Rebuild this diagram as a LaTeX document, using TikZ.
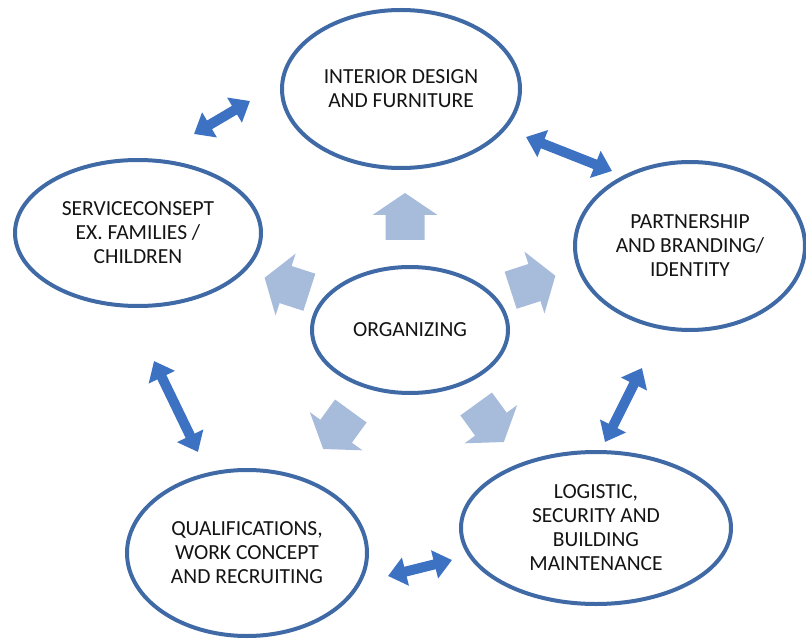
\documentclass[tikz,border=0pt]{standalone}
\usepackage{fontspec}
\setmainfont{Carlito}
\usetikzlibrary{shapes.geometric,arrows.meta}
\definecolor{ring}{RGB}{64,106,166}
\definecolor{dblc}{RGB}{61,114,194}
\definecolor{blkc}{RGB}{167,187,219}
\definecolor{txt}{RGB}{20,20,20}
\begin{document}
\begin{tikzpicture}[x=1pt,y=1pt,
  ell/.style={ellipse, draw=ring, line width=4pt, fill=white, inner sep=0pt,
    align=center, text=txt, font=\fontsize{21.5}{24}\selectfont},
  link/.style={draw=dblc, line width=10pt,
    {Triangle[width=28pt,length=18pt]}-{Triangle[width=28pt,length=18pt]}},
  pics/blockarrow/.style={code={
    \fill[blkc] (-23.5,-19.5) -- (1.5,-19.5) -- (1.5,-32.5) -- (23.5,0)
      -- (1.5,32.5) -- (1.5,19.5) -- (-23.5,19.5) -- cycle;}}]
\path[use as bounding box] (0,0) rectangle (806,-639);

% ellipses
\node[ell, minimum width=238pt, minimum height=158pt] (top) at (401,-89)
  {INTERIOR DESIGN\\AND FURNITURE};
\node[ell, minimum width=246pt, minimum height=146pt] (left) at (138,-233)
  {SERVICECONSEPT\\EX. FAMILIES /\\CHILDREN};
\node[ell, minimum width=230pt, minimum height=168pt] (right) at (690,-246)
  {PARTNERSHIP\\AND BRANDING/\\IDENTITY};
\node[ell, minimum width=196pt, minimum height=126pt] (center) at (410,-330)
  {ORGANIZING};
\node[ell, minimum width=240pt, minimum height=166pt] (botleft) at (247,-553)
  {QUALIFICATIONS,\\WORK CONCEPT\\AND RECRUITING};
\node[ell, minimum width=270pt, minimum height=152pt] (botright) at (596,-528)
  {LOGISTIC,\\SECURITY AND\\BUILDING\\MAINTENANCE};

% light block arrows around the centre
\pic[rotate=90]  at (405,-216.5) {blockarrow};
\pic[rotate=162] at (287,-285) {blockarrow};
\pic[rotate=18]  at (533,-283) {blockarrow};
\pic[rotate=234] at (337,-430) {blockarrow};
\pic[rotate=306] at (490,-423) {blockarrow};

% double arrows between outer ellipses
\coordinate (a1) at (194,-134); \coordinate (a2) at (250,-101);
\coordinate (b1) at (526,-137); \coordinate (b2) at (612,-171);
\coordinate (c1) at (154,-361); \coordinate (c2) at (198,-452);
\coordinate (d1) at (642,-368); \coordinate (d2) at (605,-442);
\coordinate (e1) at (388,-576); \coordinate (e2) at (452,-560);
\draw[link] (a1) -- (a2);
\draw[link] (b1) -- (b2);
\draw[link] (c1) -- (c2);
\draw[link] (d1) -- (d2);
\draw[link] (e1) -- (e2);
\end{tikzpicture}
\end{document}
